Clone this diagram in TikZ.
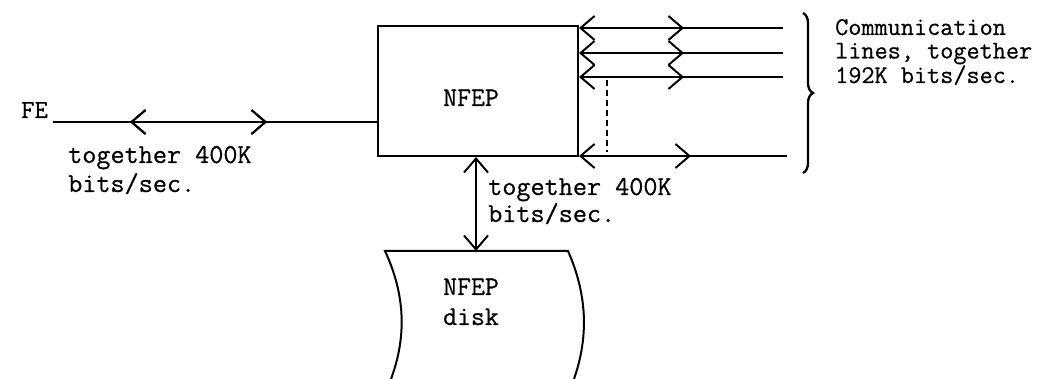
\documentclass[tikz,border=0pt]{standalone}
\usepackage{fontspec}
\setmonofont{Latin Modern Mono}[FakeBold=0.6]
\usetikzlibrary{arrows.meta,decorations.markings,decorations.pathreplacing}
\tikzset{
  myb/.tip={Straight Barb[length=14pt,width=24pt]},
  ln/.style={line width=2pt},
  midtip/.style={postaction={decorate},decoration={markings,mark=at position #1 with {\arrow{myb}}}},
  midtipr/.style={postaction={decorate},decoration={markings,mark=at position #1 with {\arrowreversed{myb}}}},
  txt/.style={inner sep=0pt,align=left,anchor=base west},
}
\begin{document}
\begin{tikzpicture}[x=1pt,y=-1pt]
\useasboundingbox (0,0) rectangle (1047,379);
% main box
\node[ln,draw,minimum width=200pt,minimum height=130pt,inner sep=0pt] (nfep) at (478,91) {};
\node[txt,font=\ttfamily\fontsize{27}{27}\selectfont] (nfeplab) at (443,106) {NFEP};
% FE
\node[txt,font=\ttfamily\fontsize{26}{27}\selectfont] (fe) at (21,118) {FE};
\coordinate (feL) at (53,122);
\draw[ln,midtipr=77pt,midtip=214pt] (feL) -- (feL -| nfep.west);
\node[txt,font=\ttfamily\fontsize{27.4}{29}\selectfont] (fetxt) at (68,192) {together 400K\\bits/sec.};
% communication lines
\coordinate (e1) at (783,28);
\coordinate (e2) at (783,53);
\coordinate (e3) at (783,77);
\coordinate (e4) at (787,156);
\draw[ln,{myb}-,midtip=105pt] (e1 -| nfep.east) -- (e1);
\draw[ln,{myb}-,midtip=105pt] (e2 -| nfep.east) -- (e2);
\draw[ln,{myb}-,midtip=105pt] (e3 -| nfep.east) -- (e3);
\draw[ln,{myb}-,midtip=112pt] (e4 -| nfep.east) -- (e4);
\coordinate (d1) at (607,80);
\coordinate (d2) at (607,152);
\draw[line width=1.5pt,dash pattern=on 6pt off 4pt] (d1) -- (d2);
% brace
\coordinate (b1) at (803,13);
\coordinate (b2) at (803,173);
\draw[line width=2.3pt,decorate,decoration={brace,amplitude=10pt}] (b1) -- (b2);
\node[txt,font=\ttfamily\fontsize{25.5}{23.5}\selectfont] (comm) at (835,83) {Communication\\lines, together\\192K bits/sec.};
% disk
\coordinate (dtl) at (385,251);
\coordinate (dtr) at (568,251);
\coordinate (dtop) at (476,251);
\draw[ln] (391,379) .. controls (407,336) and (405,294) .. (dtl) -- (dtr) .. controls (587,294) and (589,336) .. (574,379);
\node[txt,font=\ttfamily\fontsize{27}{30}\selectfont] (disklab) at (443,325) {NFEP\\disk};
% vertical connector
\draw[ln,{myb}-{myb}] (dtop |- nfep.south) -- (dtop);
\node[txt,font=\ttfamily\fontsize{27.4}{27}\selectfont] (midtxt) at (488,222) {together 400K\\bits/sec.};
\end{tikzpicture}
\end{document}
